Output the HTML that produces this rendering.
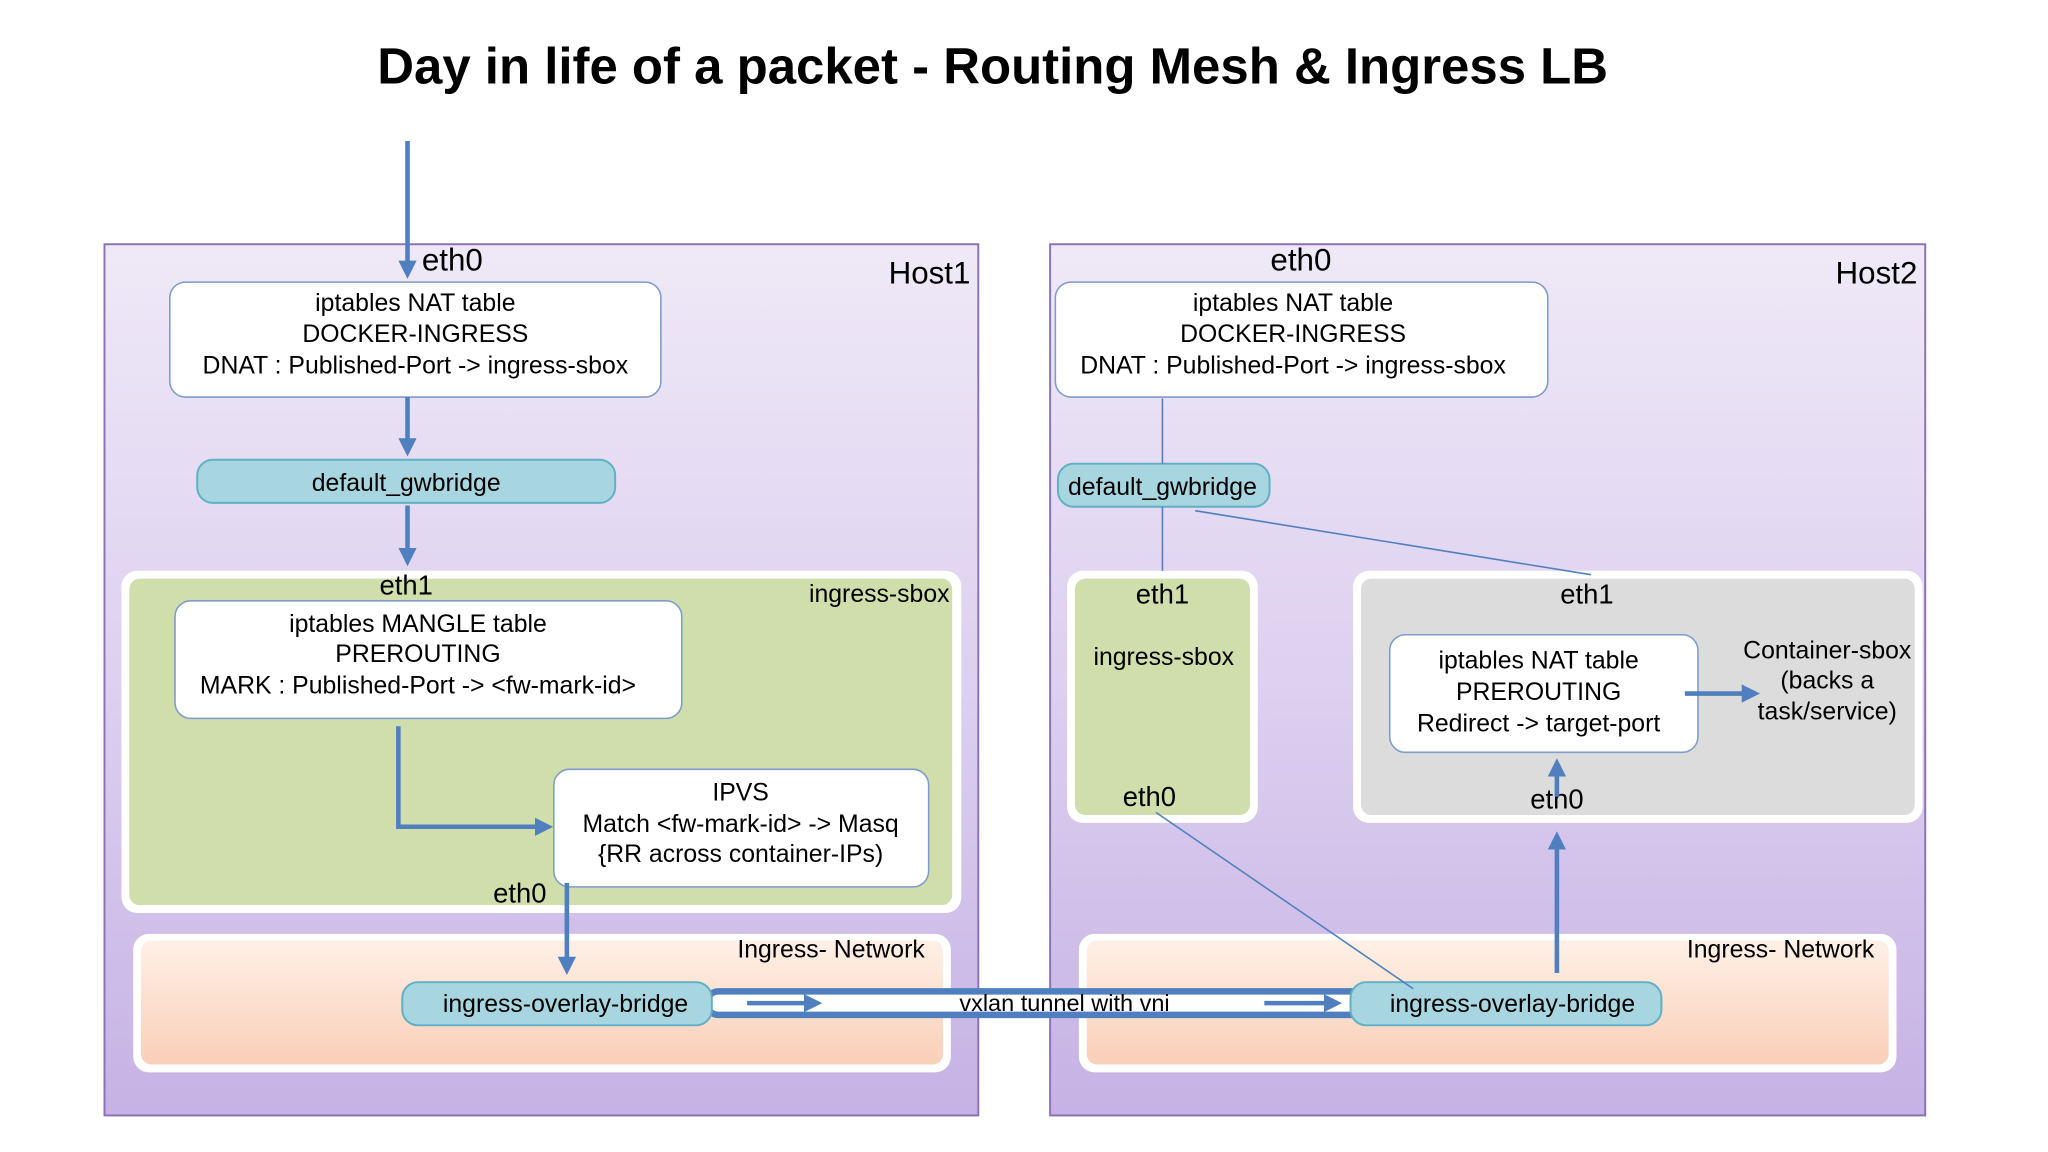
<!DOCTYPE html>
<html><head><meta charset="utf-8"><style>html,body{margin:0;padding:0;background:#fff}svg{display:block}</style></head>
<body>
<svg width="2048" height="1152" viewBox="0 0 1568 882" preserveAspectRatio="none" xmlns="http://www.w3.org/2000/svg" font-family="Liberation Sans, Arial, sans-serif">
<defs>
<linearGradient id="host" x1="0" y1="0" x2="0" y2="1"><stop offset="0" stop-color="#efe9f7"/><stop offset="0.5" stop-color="#ddd0f0"/><stop offset="1" stop-color="#c6b2e4"/></linearGradient>
<linearGradient id="peach" x1="0" y1="0" x2="0" y2="1"><stop offset="0" stop-color="#fef0e6"/><stop offset="1" stop-color="#f9cfb8"/></linearGradient>
<marker id="ah" markerWidth="4" markerHeight="4" refX="3" refY="2" orient="auto" markerUnits="strokeWidth"><path d="M0,0 L4,2 L0,4 z" fill="#4f7fbf"/></marker>
</defs>
<text x="760" y="64" font-size="39" font-weight="bold" text-anchor="middle">Day in life of a packet - Routing Mesh &amp; Ingress LB</text>

<rect x="80" y="187" width="669" height="667" fill="url(#host)" stroke="#8c72b4" stroke-width="1.5"/>
<rect x="804" y="187" width="670" height="667" fill="url(#host)" stroke="#8c72b4" stroke-width="1.5"/>
<text x="743" y="217" font-size="24" text-anchor="end">Host1</text>
<text x="1468" y="217" font-size="24" text-anchor="end">Host2</text>
<text x="323" y="207" font-size="24">eth0</text>
<text x="996" y="207" font-size="24" text-anchor="middle">eth0</text>

<g font-size="19" text-anchor="middle">
<rect x="130" y="216" width="376" height="88" rx="12" fill="#fff" stroke="#7f9ccc" stroke-width="1.2"/>
<text x="318" y="238">iptables NAT table</text><text x="318" y="262">DOCKER-INGRESS</text><text x="318" y="286">DNAT : Published-Port -&gt; ingress-sbox</text>
<rect x="808" y="216" width="377" height="88" rx="12" fill="#fff" stroke="#7f9ccc" stroke-width="1.2"/>
<text x="990" y="238">iptables NAT table</text><text x="990" y="262">DOCKER-INGRESS</text><text x="990" y="286">DNAT : Published-Port -&gt; ingress-sbox</text>

<rect x="151" y="352" width="320" height="33" rx="12" fill="#a8d6e0" stroke="#5fb0c4" stroke-width="1.5"/>
<text x="311" y="376">default_gwbridge</text>
<rect x="810" y="355" width="162" height="33" rx="12" fill="#a8d6e0" stroke="#5fb0c4" stroke-width="1.5"/>
<text x="890" y="379">default_gwbridge</text>

<rect x="93" y="437" width="643" height="262" rx="12" fill="#fff"/>
<rect x="99" y="443" width="630" height="250" rx="8" fill="#cfdeaa"/>
<text x="727" y="461" text-anchor="end">ingress-sbox</text>
<text x="311" y="455" font-size="21">eth1</text>
<rect x="134" y="460" width="388" height="90" rx="12" fill="#fff" stroke="#7f9ccc" stroke-width="1.2"/>
<text x="320" y="484">iptables MANGLE table</text><text x="320" y="507">PREROUTING</text><text x="320" y="531">MARK : Published-Port -&gt; &lt;fw-mark-id&gt;</text>
<rect x="424" y="589" width="287" height="90" rx="12" fill="#fff" stroke="#7f9ccc" stroke-width="1.2"/>
<text x="567" y="613">IPVS</text><text x="567" y="637">Match &lt;fw-mark-id&gt; -&gt; Masq</text><text x="567" y="660">{RR across container-IPs)</text>
<text x="398" y="691" font-size="21">eth0</text>

<rect x="102" y="715" width="626" height="106" rx="12" fill="#fff"/>
<rect x="108" y="720" width="614" height="95" rx="8" fill="url(#peach)"/>
<text x="708" y="733" text-anchor="end">Ingress- Network</text>
<rect x="826" y="715" width="626" height="106" rx="12" fill="#fff"/>
<rect x="832" y="720" width="614" height="95" rx="8" fill="url(#peach)"/>
<text x="1435" y="733" text-anchor="end">Ingress- Network</text>

<rect x="817" y="437" width="146" height="193" rx="12" fill="#fff"/>
<rect x="823" y="443" width="134" height="181" rx="8" fill="#cfdeaa"/>
<text x="890" y="462" font-size="21">eth1</text><text x="891" y="509">ingress-sbox</text><text x="880" y="617" font-size="21">eth0</text>
<rect x="1036" y="437" width="436" height="193" rx="12" fill="#fff"/>
<rect x="1042" y="443" width="424" height="181" rx="8" fill="#dcdcdc"/>
<text x="1215" y="462" font-size="21">eth1</text>
<rect x="1064" y="486" width="236" height="90" rx="12" fill="#fff" stroke="#7f9ccc" stroke-width="1.2"/>
<text x="1178" y="512">iptables NAT table</text><text x="1178" y="536">PREROUTING</text><text x="1178" y="560">Redirect -&gt; target-port</text>
<text x="1399" y="504">Container-sbox</text><text x="1399" y="527">(backs a</text><text x="1399" y="551">task/service)</text>
<text x="1192" y="619" font-size="21">eth0</text>

<rect x="541" y="759" width="503" height="18" rx="9" fill="#fff" stroke="#4f7fbf" stroke-width="5"/>
<rect x="308" y="752" width="237" height="33" rx="12" fill="#a8d6e0" stroke="#5fb0c4" stroke-width="1.5"/>
<text x="433" y="775">ingress-overlay-bridge</text>
<rect x="1034" y="752" width="238" height="33" rx="12" fill="#a8d6e0" stroke="#5fb0c4" stroke-width="1.5"/>
<text x="1158" y="775">ingress-overlay-bridge</text>
<text x="815" y="774" font-size="18">vxlan tunnel with vni</text>
</g>

<g stroke="#4f7fbf" stroke-width="1.2" fill="none">
<line x1="890" y1="305" x2="890" y2="355"/>
<line x1="890" y1="388" x2="890" y2="437"/>
<line x1="915" y1="391" x2="1218" y2="440"/>
<line x1="885" y1="622" x2="1082" y2="757"/>
</g>
<g stroke="#4f7fbf" stroke-width="3.5" fill="none" marker-end="url(#ah)">
<line x1="312" y1="108" x2="312" y2="210"/>
<line x1="312" y1="304" x2="312" y2="346"/>
<line x1="312" y1="387" x2="312" y2="430"/>
<polyline points="305,556 305,633 420,633"/>
<line x1="434" y1="676" x2="434" y2="743"/>
<line x1="572" y1="768" x2="626" y2="768"/>
<line x1="968" y1="768" x2="1024" y2="768"/>
<line x1="1192" y1="745" x2="1192" y2="640"/>
<line x1="1192" y1="610" x2="1192" y2="584"/>
<line x1="1290" y1="531" x2="1344" y2="531"/>
</g>
</svg>
</body></html>
